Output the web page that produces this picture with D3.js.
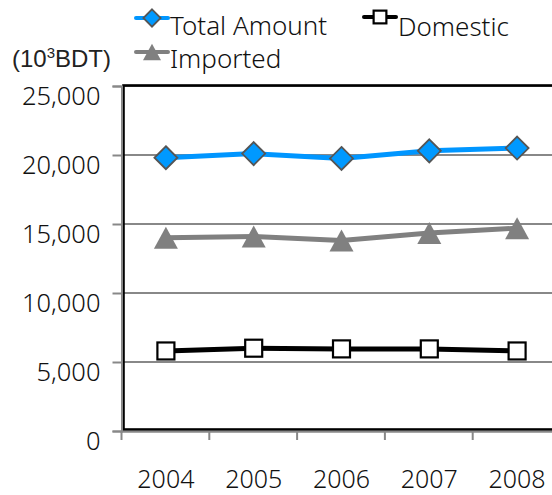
<!DOCTYPE html>
<html>
<head>
<meta charset="utf-8">
<script src="https://cdn.jsdelivr.net/npm/d3@7"></script>
<style>
  body { margin: 0; background: #fff; overflow: hidden; }
  text.lbl { font-family: "Noto Sans", "DejaVu Sans", sans-serif; font-weight: 300; fill: #111; }
  .tick text { font-family: "Noto Sans", "DejaVu Sans", sans-serif; font-weight: 300; }
</style>
</head>
<body>
<div id="chart"></div>
<script>
const years = ["2004", "2005", "2006", "2007", "2008"];
const totalAmount = [19800, 20100, 19750, 20300, 20500];
const domestic = [5800, 6000, 5950, 5950, 5800];
const imported = [14000, 14100, 13800, 14350, 14700];
const yTicks = [0, 5000, 10000, 15000, 20000, 25000];

const width = 552, height = 495;
const plotLeft = 122, plotRight = 561, plotTop = 86, plotBottom = 431;

const svg = d3.select("#chart").append("svg")
    .attr("width", width)
    .attr("height", height);

const x = d3.scaleBand().domain(years).range([plotLeft, plotRight]);
const y = d3.scaleLinear().domain([0, 25000]).range([plotBottom, plotTop]);

// gridlines
svg.append("g")
    .selectAll("line")
    .data(yTicks.slice(1))
    .join("line")
    .attr("x1", plotLeft).attr("x2", plotRight)
    .attr("y1", d => y(d)).attr("y2", d => y(d))
    .attr("stroke", "#888").attr("stroke-width", 2);

// plot area border
svg.append("rect")
    .attr("x", plotLeft + 1.5).attr("y", plotTop - 0.5)
    .attr("width", plotRight - plotLeft).attr("height", plotBottom - plotTop - 1)
    .attr("fill", "none").attr("stroke", "#000").attr("stroke-width", 2.6);

// y axis
svg.append("g")
    .attr("transform", `translate(${plotLeft - 0.5},0)`)
    .call(d3.axisLeft(y).tickValues(yTicks).tickSize(9).tickPadding(12).tickFormat(d3.format(",")))
    .call(g => g.select(".domain").attr("stroke", "#888").attr("stroke-width", 2))
    .call(g => g.selectAll(".tick line").attr("stroke", "#888").attr("stroke-width", 2))
    .call(g => g.selectAll(".tick text")
        .attr("dy", "0.72em")
        .attr("font-family", null)
        .style("font-size", "25.5px")
        .attr("fill", "#111"));

// x axis with ticks between categories
const xBounds = years.map(d => x(d)).concat([plotRight]);
const xAxis = svg.append("g");
xAxis.append("line")
    .attr("x1", plotLeft - 1.5).attr("x2", plotRight)
    .attr("y1", plotBottom + 0.8).attr("y2", plotBottom + 0.8)
    .attr("stroke", "#888").attr("stroke-width", 2);
xAxis.selectAll(".xt")
    .data(xBounds)
    .join("line")
    .attr("x1", d => d - 0.5).attr("x2", d => d - 0.5)
    .attr("y1", plotBottom).attr("y2", plotBottom + 9)
    .attr("stroke", "#888").attr("stroke-width", 2);
xAxis.selectAll("text")
    .data(years)
    .join("text")
    .attr("class", "lbl")
    .attr("x", d => x(d) + x.bandwidth() / 2)
    .attr("y", 488)
    .attr("text-anchor", "middle")
    .style("font-size", "25px")
    .text(d => d);

const cx = d => x(d) + x.bandwidth() / 2;
const line = d3.line().x(d => cx(d[0])).y(d => y(d[1]));

const series = [
    { name: "Total Amount", values: totalAmount, color: "#0096ff", marker: "diamond" },
    { name: "Domestic", values: domestic, color: "#000", marker: "square" },
    { name: "Imported", values: imported, color: "#808080", marker: "triangle" }
];

function drawMarker(g, type, px, py, scale = 1) {
    if (type === "diamond") {
        const r = 11.5 * scale;
        g.append("path")
            .attr("d", `M${px},${py - r}L${px + r},${py}L${px},${py + r}L${px - r},${py}Z`)
            .attr("fill", "#0099ff").attr("stroke", "#555").attr("stroke-width", 1.8);
    } else if (type === "square") {
        const s = 17 * scale;
        g.append("rect")
            .attr("x", px - s / 2).attr("y", py - s / 2)
            .attr("width", s).attr("height", s)
            .attr("fill", "#fff").attr("stroke", "#000").attr("stroke-width", 2.2);
    } else {
        const w = 24 * scale, h = 22 * scale;
        g.append("path")
            .attr("d", `M${px},${py - h / 2}L${px + w / 2},${py + h / 2}L${px - w / 2},${py + h / 2}Z`)
            .attr("fill", "#808080");
    }
}

// draw order: imported, domestic, total
[series[2], series[1], series[0]].forEach(s => {
    const pts = years.map((yr, i) => [yr, s.values[i]]);
    const g = svg.append("g");
    g.append("path")
        .attr("d", line(pts))
        .attr("fill", "none")
        .attr("stroke", s.color)
        .attr("stroke-width", 5);
    pts.forEach(p => drawMarker(g, s.marker, cx(p[0]), y(p[1])));
});

// legend
const legendItems = [
    { s: series[0], lx: 152, ly: 18, tx: 170, ty: 35 },
    { s: series[1], lx: 380, ly: 17, tx: 398, ty: 36 },
    { s: series[2], lx: 152, ly: 52, tx: 170, ty: 68 }
];
legendItems.forEach(it => {
    const g = svg.append("g");
    g.append("line")
        .attr("x1", it.lx - 16).attr("x2", it.lx + 16)
        .attr("y1", it.ly).attr("y2", it.ly)
        .attr("stroke", it.s.color).attr("stroke-width", 4)
        .attr("stroke-linecap", "round");
    drawMarker(g, it.s.marker, it.lx, it.ly, 0.75);
    g.append("text")
        .attr("class", "lbl")
        .attr("x", it.tx).attr("y", it.ty)
        .style("font-size", "26px")
        .text(it.s.name);
});

// unit label
const unit = svg.append("text")
    .attr("x", 12).attr("y", 67)
    .attr("fill", "#222")
    .attr("font-family", "'Liberation Sans', Arial, sans-serif")
    .attr("font-size", 24);
unit.append("tspan").text("(10");
unit.append("tspan").attr("dy", -9).attr("font-size", 15).text("3");
unit.append("tspan").attr("dy", 9).text("BDT)");
</script>
</body>
</html>
